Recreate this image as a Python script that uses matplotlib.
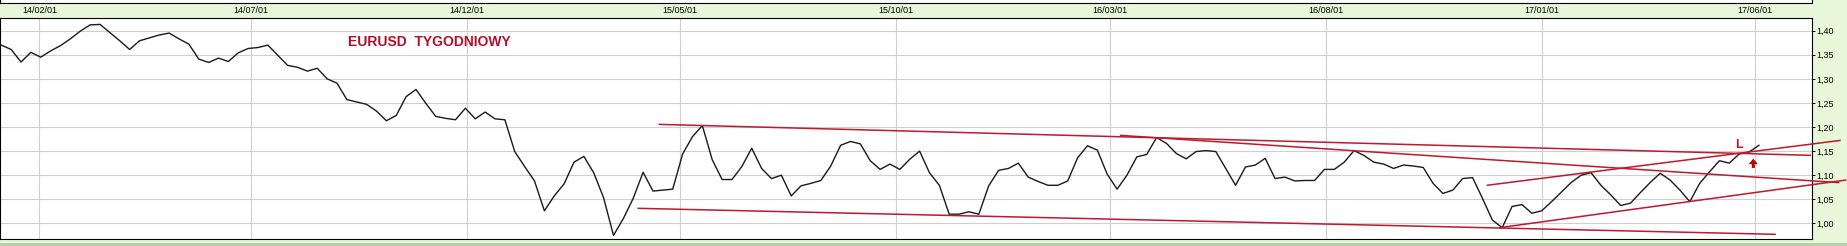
import matplotlib
matplotlib.use('Agg')
import matplotlib.pyplot as plt
from matplotlib.patches import Rectangle
import pandas as pd

# weekly EURUSD closes
start_date = '2014-01-05'
eurusd = [1.370, 1.361, 1.335, 1.355, 1.345, 1.358, 1.369, 1.383, 1.399, 1.412,
          1.413, 1.396, 1.379, 1.361, 1.379, 1.385, 1.391, 1.395, 1.383, 1.372,
          1.341, 1.334, 1.343, 1.336, 1.354, 1.363, 1.365, 1.370, 1.349, 1.328,
          1.324, 1.316, 1.322, 1.300, 1.291, 1.257, 1.252, 1.247, 1.233, 1.213,
          1.224, 1.263, 1.278, 1.249, 1.222, 1.218, 1.215, 1.239, 1.217, 1.231,
          1.217, 1.215, 1.149, 1.118, 1.088, 1.026, 1.057, 1.082, 1.127, 1.139,
          1.105, 1.053, 0.975, 1.010, 1.052, 1.106, 1.067, 1.069, 1.071, 1.144,
          1.180, 1.203, 1.132, 1.091, 1.091, 1.118, 1.156, 1.114, 1.093, 1.100,
          1.057, 1.078, 1.083, 1.089, 1.119, 1.162, 1.170, 1.165, 1.130, 1.112,
          1.123, 1.112, 1.133, 1.150, 1.105, 1.079, 1.019, 1.019, 1.024, 1.019,
          1.078, 1.110, 1.114, 1.125, 1.096, 1.087, 1.079, 1.079, 1.088, 1.136,
          1.161, 1.152, 1.102, 1.071, 1.100, 1.138, 1.143, 1.178, 1.166, 1.145,
          1.134, 1.149, 1.151, 1.149, 1.114, 1.079, 1.117, 1.121, 1.135, 1.093,
          1.096, 1.088, 1.089, 1.089, 1.112, 1.112, 1.127, 1.151, 1.141, 1.127,
          1.123, 1.114, 1.121, 1.119, 1.116, 1.083, 1.062, 1.069, 1.093, 1.095,
          1.052, 1.007, 0.991, 1.035, 1.039, 1.021, 1.026, 1.045, 1.065, 1.085,
          1.100, 1.105, 1.079, 1.059, 1.037, 1.042, 1.064, 1.085, 1.104, 1.090,
          1.069, 1.045, 1.083, 1.107, 1.130, 1.125, 1.144, 1.148, 1.162]

tick_labels = ['14/02/01', '14/07/01', '14/12/01', '15/05/01', '15/10/01',
               '16/03/01', '16/08/01', '17/01/01', '17/06/01']
y_ticks = [1.00, 1.05, 1.10, 1.15, 1.20, 1.25, 1.30, 1.35, 1.40]

# trend lines: (start date, start value, end date, end value)
trend_lines = [
    ('2015-04-16', 1.2055, '2017-07-11', 1.1412),
    ('2016-03-08', 1.1827, '2017-07-31', 1.0845),
    ('2016-11-23', 1.0789, '2017-08-01', 1.1723),
    ('2016-12-02', 0.9910, '2017-08-05', 1.0900),
    ('2015-04-01', 1.0312, '2017-06-16', 0.9772),
]

dates = pd.date_range(start=start_date, periods=len(eurusd), freq='7D')
tick_dates = [pd.to_datetime(t, format='%y/%m/%d') for t in tick_labels]

bg = '#e8f7d9'
red = '#c0182c'

fig = plt.figure(figsize=(18.47, 2.46), dpi=100, facecolor=bg)
ax = fig.add_axes([0, 0.02846, 0.98088, 0.89837])
ax.set_facecolor('white')

# white panel above and darker strip at the bottom
fig.patches.append(Rectangle((0, 0.989), 0.98088, 0.02, transform=fig.transFigure,
                             facecolor='white', edgecolor='black', lw=0.8))
fig.patches.append(Rectangle((0, 0), 1, 0.0134, transform=fig.transFigure,
                             facecolor='#b7cfaa', edgecolor='none'))

ax.plot(dates, eurusd, color='#1a1a1a', lw=1.0, zorder=3)

for d0, v0, d1, v1 in trend_lines:
    ax.plot([pd.to_datetime(d0), pd.to_datetime(d1)], [v0, v1], color=red, lw=1.1,
            zorder=4, clip_on=False, solid_capstyle='butt')

ax.set_xlim(pd.to_datetime('2014-02-01') - pd.Timedelta(days=27.9),
            pd.to_datetime('2017-06-01') + pd.Timedelta(days=40.4))
ax.set_ylim(0.9675, 1.4263)

ax.set_xticks(tick_dates)
ax.set_xticklabels(tick_labels)
ax.set_yticks(y_ticks)
ax.set_yticklabels([f'{v:.2f}'.replace('.', ',') for v in y_ticks])

ax.xaxis.tick_top()
ax.yaxis.tick_right()
ax.tick_params(axis='x', length=0, pad=2.5, labelsize=6.5)
ax.tick_params(axis='y', length=2.5, width=0.7, pad=1.2, labelsize=6.5)
for lab in ax.get_xticklabels() + ax.get_yticklabels():
    lab.set_family(['Liberation Sans', 'DejaVu Sans'])

ax.grid(True, color='#cfcfcf', lw=0.8, zorder=0)
for sp in ax.spines.values():
    sp.set_color('black')
    sp.set_linewidth(0.8)

ax.text(0.1919, 0.8928, 'EURUSD  TYGODNIOWY', transform=ax.transAxes, ha='left',
        va='center', color='#b0102a', fontsize=10, fontweight='bold',
        family=['Liberation Sans Narrow', 'Liberation Sans', 'DejaVu Sans'])

ax.text(pd.to_datetime('2017-05-21'), 1.1633, 'L', ha='center', va='center',
        color=red, fontsize=9, fontweight='bold', family=['Liberation Sans', 'DejaVu Sans'])
ax.annotate('', xy=(pd.to_datetime('2017-05-31'), 1.1345),
            xytext=(pd.to_datetime('2017-05-31'), 1.1150),
            arrowprops=dict(width=2.2, headwidth=6.5, headlength=4, shrink=0,
                            color='#c00000', lw=0))

fig.savefig('out.png', dpi=100, facecolor=bg)
